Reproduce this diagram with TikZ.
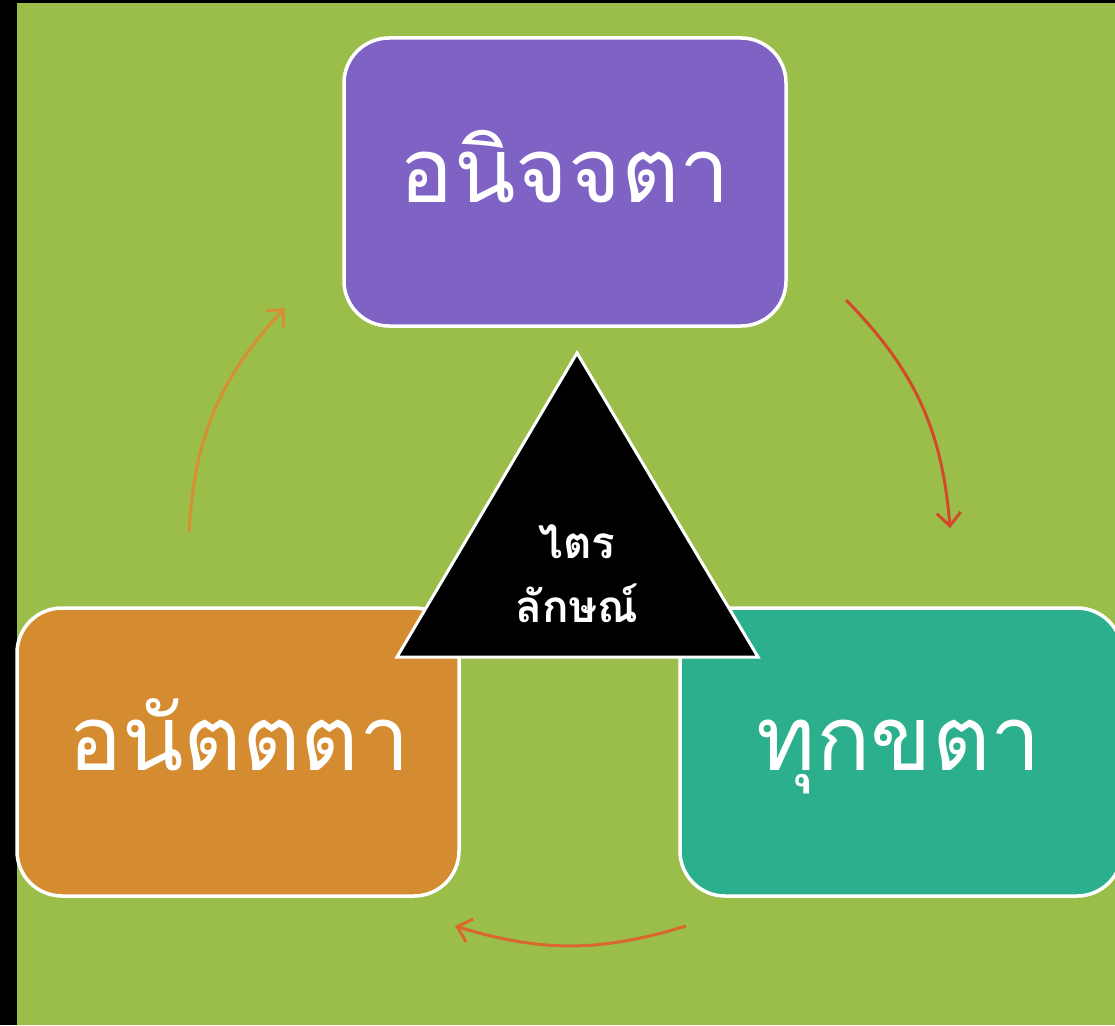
\documentclass[tikz,border=0pt]{standalone}
\usepackage{fontspec}
\newfontfamily\thaifont[Script=Thai]{Loma}
\usetikzlibrary{arrows.meta}
\definecolor{bggreen}{HTML}{9BBE4B}
\definecolor{purp}{HTML}{7E62C4}
\definecolor{orng}{HTML}{D58C30}
\definecolor{teal2}{HTML}{2BAF8C}
\definecolor{arrA}{HTML}{D88E32}
\definecolor{arrB}{HTML}{D2492B}
\definecolor{arrC}{HTML}{D9672E}
\tikzset{
  box/.style={draw=white, line width=3.5pt, rounded corners=45pt, inner sep=0pt,
              minimum width=442pt, minimum height=288pt},
  bigtxt/.style={text=white, font=\thaifont\fontsize{90}{100}\selectfont, inner sep=0pt, anchor=base},
  smalltxt/.style={text=white, font=\thaifont\bfseries\fontsize{44}{48}\selectfont, inner sep=0pt, anchor=base},
  cyc/.style={line width=3pt, -{Straight Barb[length=13pt,width=24pt,line width=3pt]}}
}
\begin{document}
\begin{tikzpicture}[x=1pt,y=-1pt]
\fill[black] (0,0) rectangle (1115,1025);
\clip (0,0) rectangle (1115,1025);
\fill[bggreen] (17,3) rectangle (1115,1025);
% boxes
\node[box, fill=purp] (anic) at (565,182) {};
\node[box, fill=orng] (anat) at (238,752) {};
\node[box, fill=teal2] (dukk) at (901,752) {};
\node[bigtxt] (anict) at (565,202) {อนิจจตา};
\node[bigtxt] (anatt) at (239,770) {อนัตตตา};
\node[bigtxt] (dukkt) at (899,770) {ทุกขตา};
% triangle
\coordinate (tA) at (577,353);
\coordinate (tB) at (397,657);
\coordinate (tC) at (758,657);
\draw[fill=black, draw=white, line width=3pt] (tA) -- (tB) -- (tC) -- cycle;
\node[smalltxt] (tri1) at (577,558) {ไตร};
\node[smalltxt] (tri2) at (577,622) {ลักษณ์};
% arrows
\coordinate (a1s) at (189,532);
\coordinate (a1e) at (285,308);
\coordinate (a2s) at (846,300);
\coordinate (a2e) at (950,528);
\coordinate (a3s) at (686,926);
\coordinate (a3e) at (455,926);
\draw[cyc, draw=arrA] (a1s) to[bend left=20] (a1e);
\draw[cyc, draw=arrB] (a2s) to[bend left=20] (a2e);
\draw[cyc, draw=arrC] (a3s) to[bend left=17] (a3e);
\end{tikzpicture}
\end{document}
